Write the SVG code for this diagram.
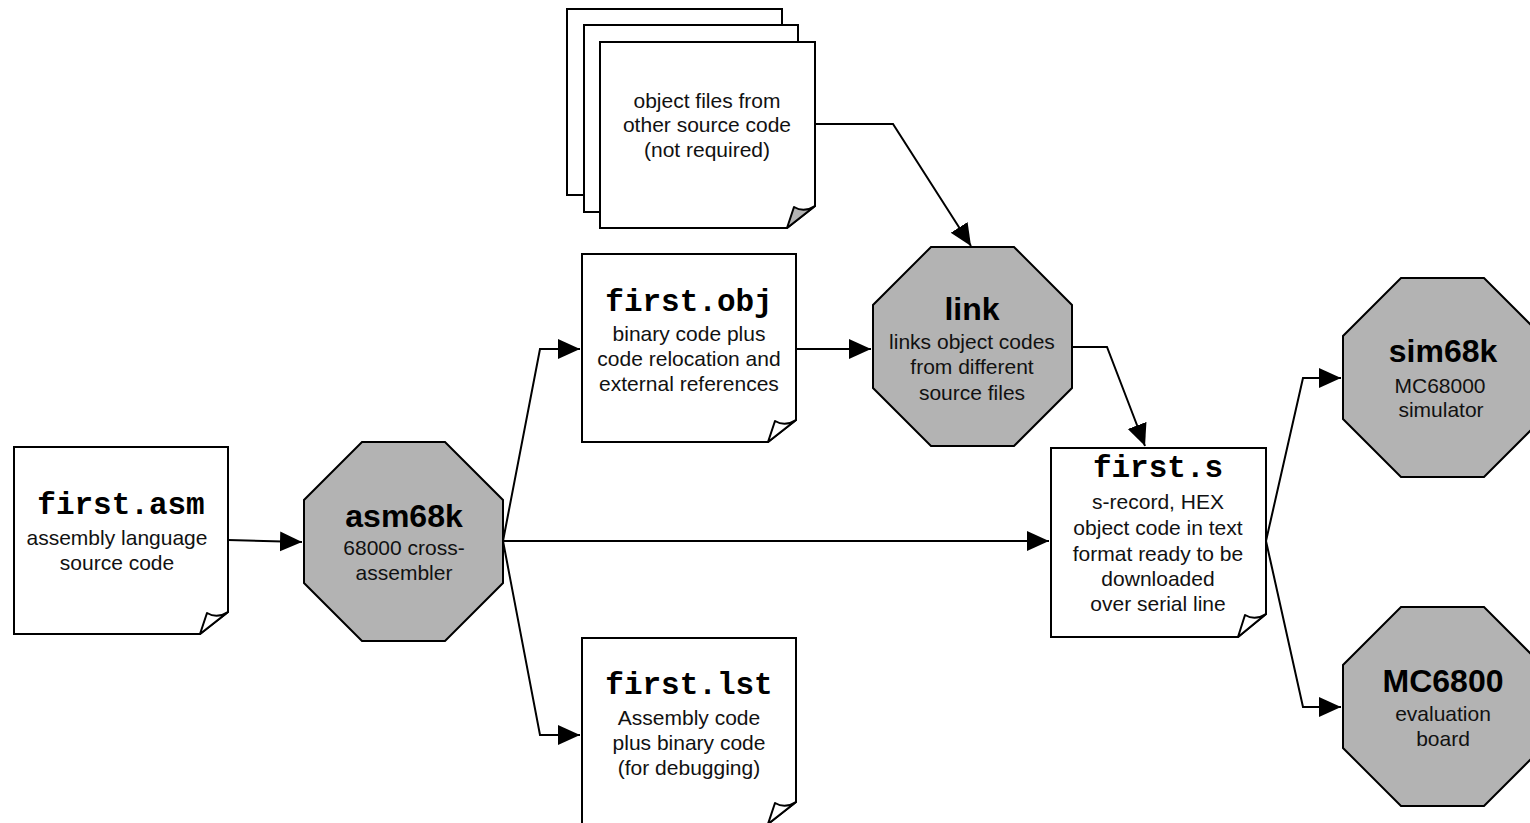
<svg xmlns="http://www.w3.org/2000/svg" width="1530" height="823" viewBox="0 0 1530 823">
<style>
.doc{fill:#fff;stroke:#000;stroke-width:2;stroke-linejoin:miter}
.fold{fill:#fff;stroke:#000;stroke-width:2;stroke-linejoin:round}
.foldg{fill:#b3b3b3;stroke:#000;stroke-width:2;stroke-linejoin:round}
.oct{fill:#b3b3b3;stroke:#000;stroke-width:2}
.mono{font-family:"Courier New","Liberation Mono",monospace;font-weight:bold;font-size:31px;text-anchor:middle;fill:#000}
.title{font-family:"Liberation Sans",Arial,sans-serif;font-weight:bold;font-size:32px;text-anchor:middle;fill:#000}
.sub{font-family:"Liberation Sans",Arial,sans-serif;font-size:21px;text-anchor:middle;fill:#111}
.conn{fill:none;stroke:#000;stroke-width:2}
</style>
<defs>
<marker id="arr" markerUnits="userSpaceOnUse" markerWidth="23" markerHeight="22" refX="22" refY="10" orient="auto" viewBox="0 0 23 22">
<path d="M0,0 L22,10 L0,20 Z" fill="#000"/>
</marker>
</defs>
<rect width="1530" height="823" fill="#fff"/>

<g id="connectors">
<path class="conn" d="M228,540 L302,542" marker-end="url(#arr)"/>
<path class="conn" d="M503,541 L540,349 L580,349" marker-end="url(#arr)"/>
<path class="conn" d="M503,541 L540,735 L580,735" marker-end="url(#arr)"/>
<path class="conn" d="M503,541 L1049,541" marker-end="url(#arr)"/>
<path class="conn" d="M796,349 L871,349" marker-end="url(#arr)"/>
<path class="conn" d="M815,124 L893,124 L971,246" marker-end="url(#arr)"/>
<path class="conn" d="M1072,347 L1107,347 L1145,446" marker-end="url(#arr)"/>
<path class="conn" d="M1266,541 L1303,378 L1341,378" marker-end="url(#arr)"/>
<path class="conn" d="M1266,541 L1303,707 L1341,707" marker-end="url(#arr)"/>
</g>

<g id="objfiles">
<rect class="doc" x="567" y="9" width="215" height="186"/>
<rect class="doc" x="584" y="25" width="214" height="187"/>
<path class="doc" d="M600,42 H815 V206 L787,228 H600 Z"/>
<path class="foldg" d="M787,228 L794,207 Q804,213 815,206 Z"/>
<text class="sub" x="707" y="108">object files from</text>
<text class="sub" x="707" y="132">other source code</text>
<text class="sub" x="707" y="157">(not required)</text>
</g>

<g id="first_asm">
<path class="doc" d="M14,447 H228 V612 L200,634 H14 Z"/>
<path class="fold" d="M200,634 L207,613 Q217,619 228,612 Z"/>
<text class="mono" x="121" y="514">first.asm</text>
<text class="sub" x="117" y="545">assembly language</text>
<text class="sub" x="117" y="570">source code</text>
</g>

<g id="asm68k">
<polygon class="oct" points="362,442 445,442 503,500 503,583 445,641 362,641 304,583 304,500"/>
<text class="title" x="404" y="527">asm68k</text>
<text class="sub" x="404" y="555">68000 cross-</text>
<text class="sub" x="404" y="580">assembler</text>
</g>

<g id="first_obj">
<path class="doc" d="M582,254 H796 V420 L768,442 H582 Z"/>
<path class="fold" d="M768,442 L775,421 Q785,427 796,420 Z"/>
<text class="mono" x="689" y="311">first.obj</text>
<text class="sub" x="689" y="341">binary code plus</text>
<text class="sub" x="689" y="366">code relocation and</text>
<text class="sub" x="689" y="391">external references</text>
</g>

<g id="first_lst">
<path class="doc" d="M582,638 H796 V802 L768,824 H582 Z"/>
<path class="fold" d="M768,824 L775,803 Q785,809 796,802 Z"/>
<text class="mono" x="689" y="694">first.lst</text>
<text class="sub" x="689" y="725">Assembly code</text>
<text class="sub" x="689" y="750">plus binary code</text>
<text class="sub" x="689" y="775">(for debugging)</text>
</g>

<g id="link">
<polygon class="oct" points="931,247 1014,247 1072,305 1072,388 1014,446 931,446 873,388 873,305"/>
<text class="title" x="972" y="320">link</text>
<text class="sub" x="972" y="349">links object codes</text>
<text class="sub" x="972" y="374">from different</text>
<text class="sub" x="972" y="400">source files</text>
</g>

<g id="first_s">
<path class="doc" d="M1051,448 H1266 V614 L1238,637 H1051 Z"/>
<path class="fold" d="M1238,637 L1245,615 Q1255,621 1266,614 Z"/>
<text class="mono" x="1158" y="477">first.s</text>
<text class="sub" x="1158" y="509">s-record, HEX</text>
<text class="sub" x="1158" y="535">object code in text</text>
<text class="sub" x="1158" y="561">format ready to be</text>
<text class="sub" x="1158" y="586">downloaded</text>
<text class="sub" x="1158" y="611">over serial line</text>
</g>

<g id="sim68k">
<polygon class="oct" points="1401,278 1484,278 1542,336 1542,419 1484,477 1401,477 1343,419 1343,336"/>
<text class="title" x="1443" y="362">sim68k</text>
<text class="sub" x="1440" y="393">MC68000</text>
<text class="sub" x="1441" y="417">simulator</text>
</g>

<g id="mc6800">
<polygon class="oct" points="1401,607 1484,607 1542,665 1542,748 1484,806 1401,806 1343,748 1343,665"/>
<text class="title" x="1443" y="692">MC6800</text>
<text class="sub" x="1443" y="721">evaluation</text>
<text class="sub" x="1443" y="746">board</text>
</g>
</svg>
